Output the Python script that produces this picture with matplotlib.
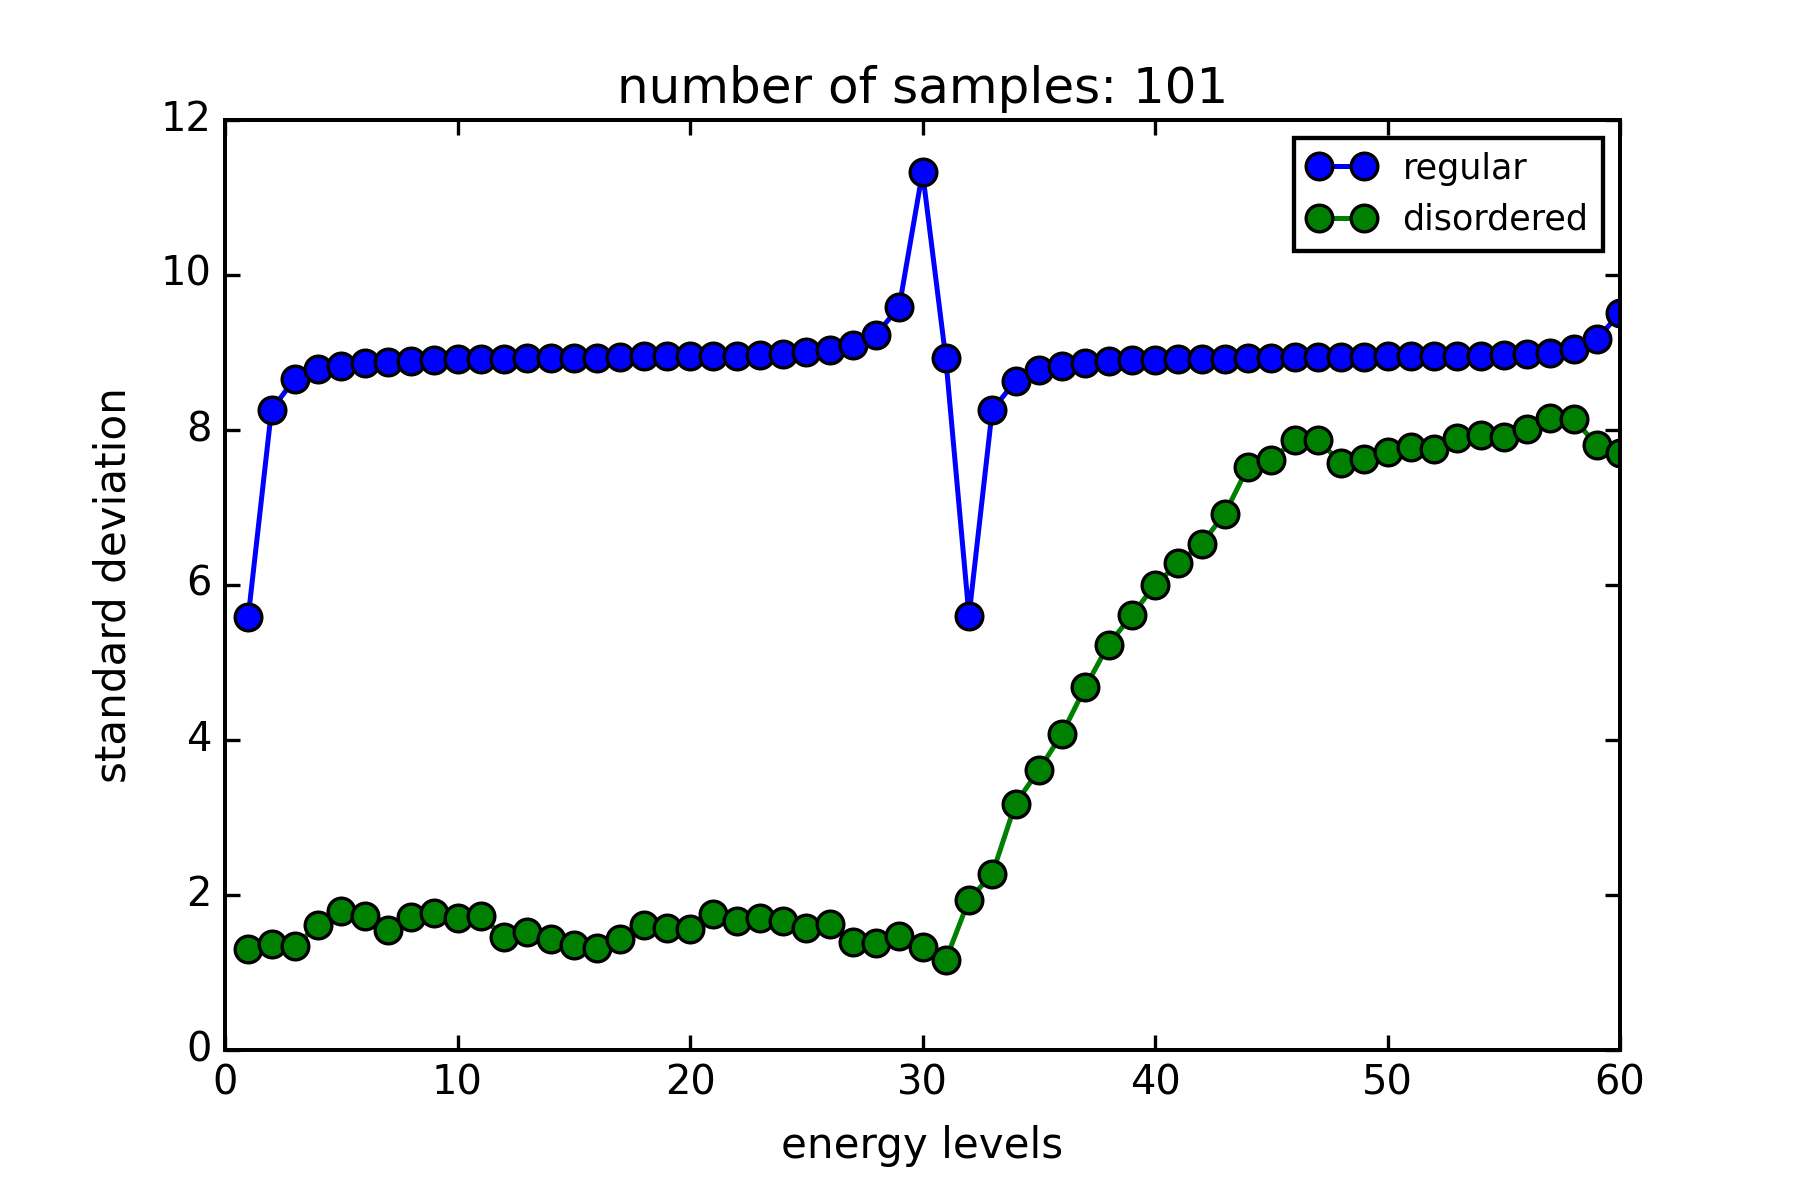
import matplotlib
matplotlib.use("Agg")
import matplotlib.pyplot as plt

levels = list(range(1, 61))

regular = [5.59, 8.26, 8.66, 8.79, 8.83, 8.87, 8.88, 8.89, 8.90, 8.91,
           8.91, 8.91, 8.93, 8.93, 8.93, 8.93, 8.94, 8.95, 8.95, 8.95,
           8.96, 8.96, 8.97, 8.98, 9.01, 9.03, 9.10, 9.23, 9.59, 11.33,
           8.93, 5.60, 8.26, 8.63, 8.77, 8.83, 8.87, 8.89, 8.90, 8.90,
           8.92, 8.92, 8.92, 8.93, 8.93, 8.94, 8.94, 8.94, 8.94, 8.95,
           8.95, 8.95, 8.95, 8.95, 8.97, 8.98, 9.00, 9.05, 9.17, 9.51]

disordered = [1.30, 1.37, 1.34, 1.61, 1.80, 1.73, 1.55, 1.71, 1.77, 1.70,
              1.73, 1.46, 1.52, 1.43, 1.35, 1.31, 1.43, 1.61, 1.57, 1.56,
              1.75, 1.66, 1.70, 1.66, 1.57, 1.63, 1.40, 1.38, 1.47, 1.33,
              1.16, 1.94, 2.27, 3.18, 3.61, 4.08, 4.68, 5.23, 5.61, 6.00,
              6.28, 6.53, 6.92, 7.52, 7.61, 7.87, 7.87, 7.58, 7.62, 7.71,
              7.78, 7.76, 7.90, 7.94, 7.91, 8.01, 8.16, 8.14, 7.81, 7.70]

series_labels = ["regular", "disordered"]
title = "number of samples: 101"

plt.style.use("classic")
plt.rcParams["font.family"] = ["DejaVu Sans"]

fig = plt.figure(figsize=(7.5, 5), dpi=240, facecolor="white")
ax = fig.add_axes([0.125, 0.125, 0.775, 0.775])

ax.plot(levels, regular, "o-", color="b", markersize=8, mec="k", mew=1,
        lw=1.5, label=series_labels[0])
ax.plot(levels, disordered, "o-", color="g", markersize=8, mec="k", mew=1,
        lw=1.5, label=series_labels[1])

ax.set_xlim(0, 60)
ax.set_ylim(0, 12)
ax.set_xticks(range(0, 61, 10))
ax.set_yticks(range(0, 13, 2))
ax.tick_params(direction="in", length=4.5, width=1, labelsize=12,
               top=True, right=True)
for s in ax.spines.values():
    s.set_linewidth(1.2)
ax.set_xlabel("energy levels", fontsize=12.6, labelpad=6.5)
ax.set_ylabel("standard deviation", fontsize=12.6, labelpad=8)
ax.set_title(title, fontsize=15)

leg = ax.legend(loc="upper right", numpoints=2, fontsize=10.5, frameon=True,
                handlelength=1.9)
leg.get_frame().set_linewidth(1.3)
leg.get_frame().set_edgecolor("k")

fig.savefig("out.png", dpi=240, facecolor="white")
